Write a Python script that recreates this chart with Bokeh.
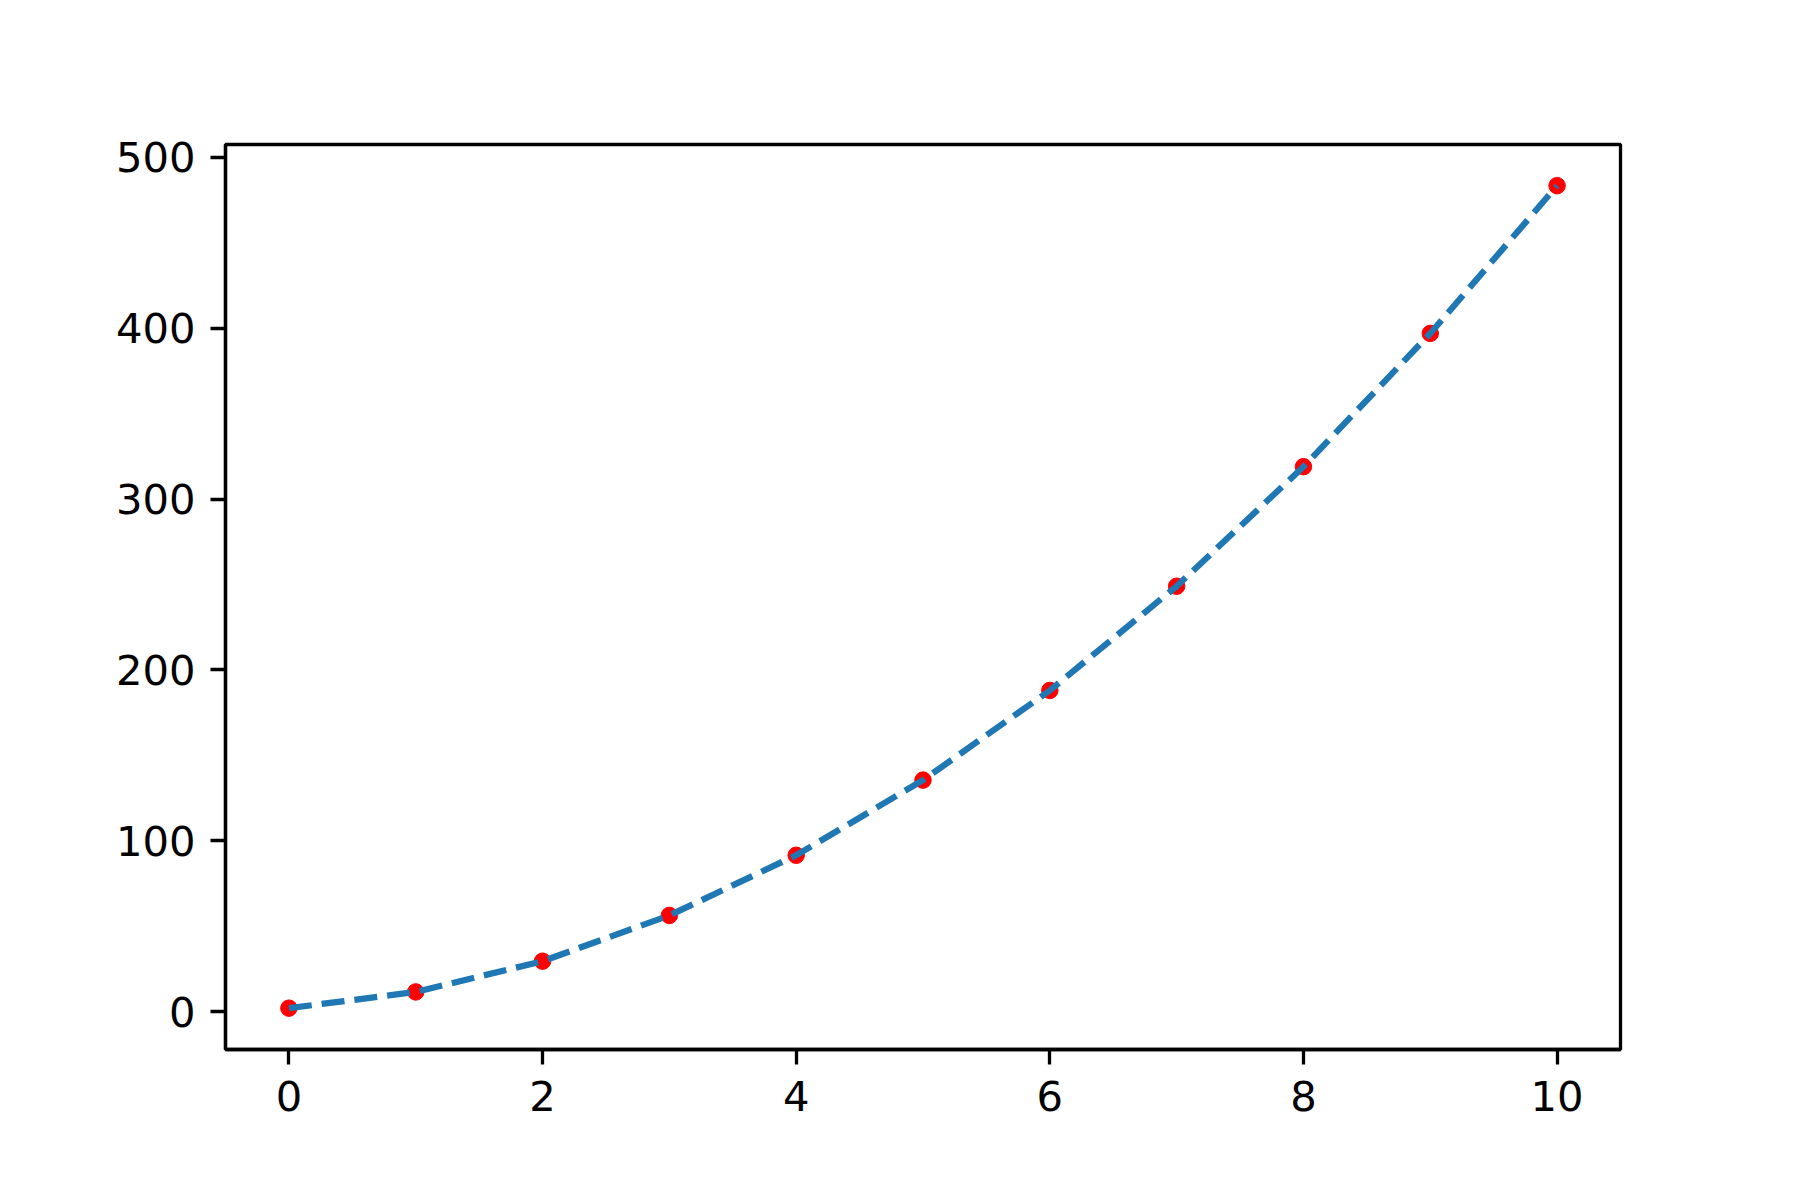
from bokeh.plotting import figure
from bokeh.models import Range1d, FixedTicker
from bokeh.embed import file_html
from bokeh.resources import INLINE

x_values = [0, 1, 2, 3, 4, 5, 6, 7, 8, 9, 10]
y_values = [2, 11.5, 29.5, 56.3, 91.5, 135.5, 188, 249, 319, 397, 483.5]
x_ticks = [0, 2, 4, 6, 8, 10]
y_ticks = [0, 100, 200, 300, 400, 500]

p = figure(frame_width=1395, frame_height=905,
           min_border_left=225, min_border_right=165,
           min_border_top=144, min_border_bottom=135,
           x_range=Range1d(-0.5, 10.5), y_range=Range1d(-22.2, 507.6),
           output_backend="svg", toolbar_location=None)

p.xgrid.visible = False
p.ygrid.visible = False
p.background_fill_color = "white"
p.border_fill_color = "white"
p.outline_line_color = "black"
p.outline_line_width = 3.3
p.outline_line_alpha = 1

p.xaxis.ticker = FixedTicker(ticks=x_ticks)
p.yaxis.ticker = FixedTicker(ticks=y_ticks)
for ax in (p.xaxis, p.yaxis):
    ax.axis_line_width = 3.3
    ax.axis_line_color = "black"
    ax.major_tick_line_width = 3.3
    ax.major_tick_line_color = "black"
    ax.major_tick_out = 15
    ax.major_tick_in = 0
    ax.minor_tick_line_color = None
    ax.major_label_text_font = "DejaVu Sans"
    ax.major_label_text_font_size = "41.7px"
    ax.major_label_text_color = "black"
p.xaxis.major_label_standoff = 16
p.yaxis.major_label_standoff = 15

# red dots first, dashed line on top
p.scatter(x_values, y_values, size=16.5, color="red", line_color="red")
p.line(x_values, y_values, line_color="#1f77b4", line_width=6.25, line_dash="23 10")

open("out.html", "w").write(file_html(p, INLINE))
